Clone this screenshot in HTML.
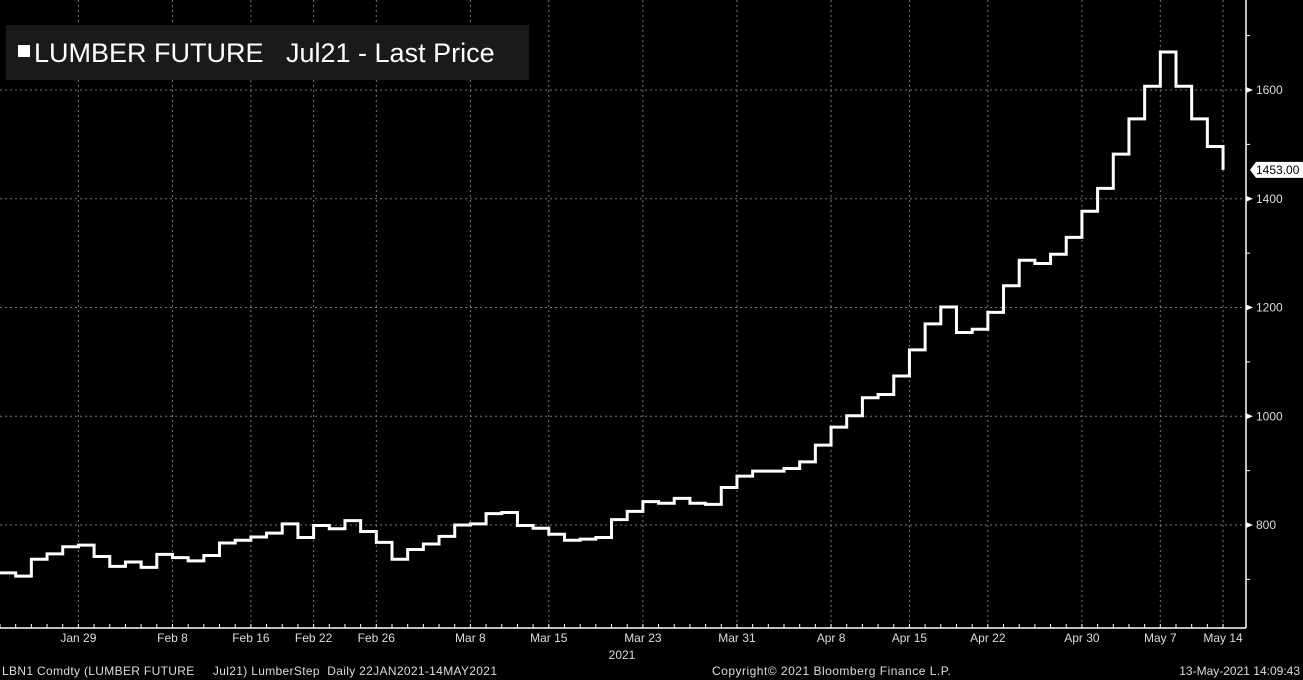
<!DOCTYPE html>
<html><head><meta charset="utf-8"><style>
html,body{margin:0;padding:0;background:#000;width:1303px;height:680px;overflow:hidden;font-family:"Liberation Sans",sans-serif}
svg{display:block}
</style></head><body>
<svg id="chart" width="1303" height="680" viewBox="0 0 1303 680" xmlns="http://www.w3.org/2000/svg"></svg>
<script>
const prices=[712,706,737,747,760,763,742,724,732,722,746,740,734,744,767,772,778,785,802,777,799,793,808,788,768,737,755,765,779,800,802,821,823,799,794,783,772,774,777,810,825,843,840,849,840,838,869,890,899,899,904,916,947,980,1001,1034,1040,1074,1122,1170,1201,1154,1160,1191,1240,1287,1281,1298,1329,1377,1419,1482,1547,1607,1670,1607,1547,1496,1453];
const xLabels=["Jan 29","Feb 8","Feb 16","Feb 22","Feb 26","Mar 8","Mar 15","Mar 23","Mar 31","Apr 8","Apr 15","Apr 22","Apr 30","May 7","May 14"];
const xLabelIdx=[5,11,16,20,24,30,35,41,47,53,58,63,69,74,78];
const yTicks=[800,1000,1200,1400,1600];
const yMinor=[700,900,1100,1300,1500,1700];
const lastLabel="1453.00";

const NS="http://www.w3.org/2000/svg";
const svg=document.getElementById('chart');
const W=15.68, AX=1246, AY=628;
const xs=i=>i*W;
const ys=v=>525-(v-800)*0.54375;
function mk(t,a,p){const e=document.createElementNS(NS,t);for(const k in a)e.setAttribute(k,a[k]);(p||svg).appendChild(e);return e;}

yTicks.forEach(v=>{
  const g=mk('line',{x1:0,x2:AX,y1:ys(v),y2:ys(v),stroke:'#777','stroke-dasharray':'2,3','stroke-width':1});
  
  
});
xLabelIdx.forEach(i=>{
  const g=mk('line',{x1:xs(i),x2:xs(i),y1:0,y2:AY,stroke:'#777','stroke-dasharray':'2,3','stroke-width':1});
  
  
});

const xa=mk('line',{x1:0,x2:AX,y1:AY,y2:AY,stroke:'#fff','stroke-width':1.5});


const ya=mk('line',{x1:AX,x2:AX,y1:0,y2:AY,stroke:'#fff','stroke-width':1.5});



for(let i=0;i<prices.length;i++){
  const t=mk('line',{x1:xs(i),x2:xs(i),y1:AY,y2:AY-4,stroke:'#fff','stroke-width':1});
  
  
}
xLabels.forEach((l,k)=>{
  const t=mk('text',{x:xs(xLabelIdx[k]),y:642,fill:'#ddd','font-size':12,'text-anchor':'middle'});
  t.textContent=l;
  
  
});
const yr=mk('text',{x:622,y:659,fill:'#ddd','font-size':12,'text-anchor':'middle'});
yr.textContent='2021';



yTicks.forEach(v=>{
  const y=ys(v);
  const p=mk('polygon',{points:`${AX},${y-3} ${AX+7},${y} ${AX},${y+3}`,fill:'#fff'});
  
  
  const t=mk('text',{x:AX+10,y:y+4,fill:'#ddd','font-size':12});
  t.textContent=v;
  
  
});
yMinor.forEach(v=>{
  const t=mk('line',{x1:AX,x2:AX+4,y1:ys(v),y2:ys(v),stroke:'#fff','stroke-width':1});
  
  
});

let d='';
for(let i=0;i<prices.length;i++){
  const y=ys(prices[i]);
  if(i===0)d+=`M${xs(0)},${y}`;else d+=`V${y}`;
  if(i<prices.length-1)d+=`H${xs(i+1)}`;
}
const line=mk('path',{d:d,fill:'none',stroke:'#fff','stroke-width':3,'stroke-linejoin':'miter'});



const ly=ys(prices[prices.length-1]);
const lb=mk('polygon',{points:`${AX+4},${ly} ${AX+10},${ly-8} ${1303},${ly-8} ${1303},${ly+8} ${AX+10},${ly+8}`,fill:'#fff'});


const lt=mk('text',{x:AX+10,y:ly+4,fill:'#000','font-size':12});
lt.textContent=lastLabel;



const lg=mk('rect',{x:6,y:25,width:523,height:55,fill:'#1a1a1a'});


const sq=mk('rect',{x:18,y:45,width:12,height:12,fill:'#fff'});


const l1=mk('text',{x:34,y:62,fill:'#fff','font-size':27});
l1.textContent='LUMBER FUTURE';


const l2=mk('text',{x:286,y:62,fill:'#fff','font-size':27});
l2.textContent='Jul21 - Last Price';



const f1=mk('text',{x:2,y:675,fill:'#ddd','font-size':12,textLength:495,lengthAdjust:'spacing'});
f1.textContent='LBN1 Comdty (LUMBER FUTURE     Jul21) LumberStep  Daily 22JAN2021-14MAY2021';


f1.style.whiteSpace='pre';
const f2=mk('text',{x:712,y:675,fill:'#ddd','font-size':12,textLength:239,lengthAdjust:'spacing'});
f2.textContent='Copyright© 2021 Bloomberg Finance L.P.';


const f3=mk('text',{x:1300,y:675,fill:'#ddd','font-size':12,'text-anchor':'end'});
f3.textContent='13-May-2021 14:09:43';


</script>
</body></html>
